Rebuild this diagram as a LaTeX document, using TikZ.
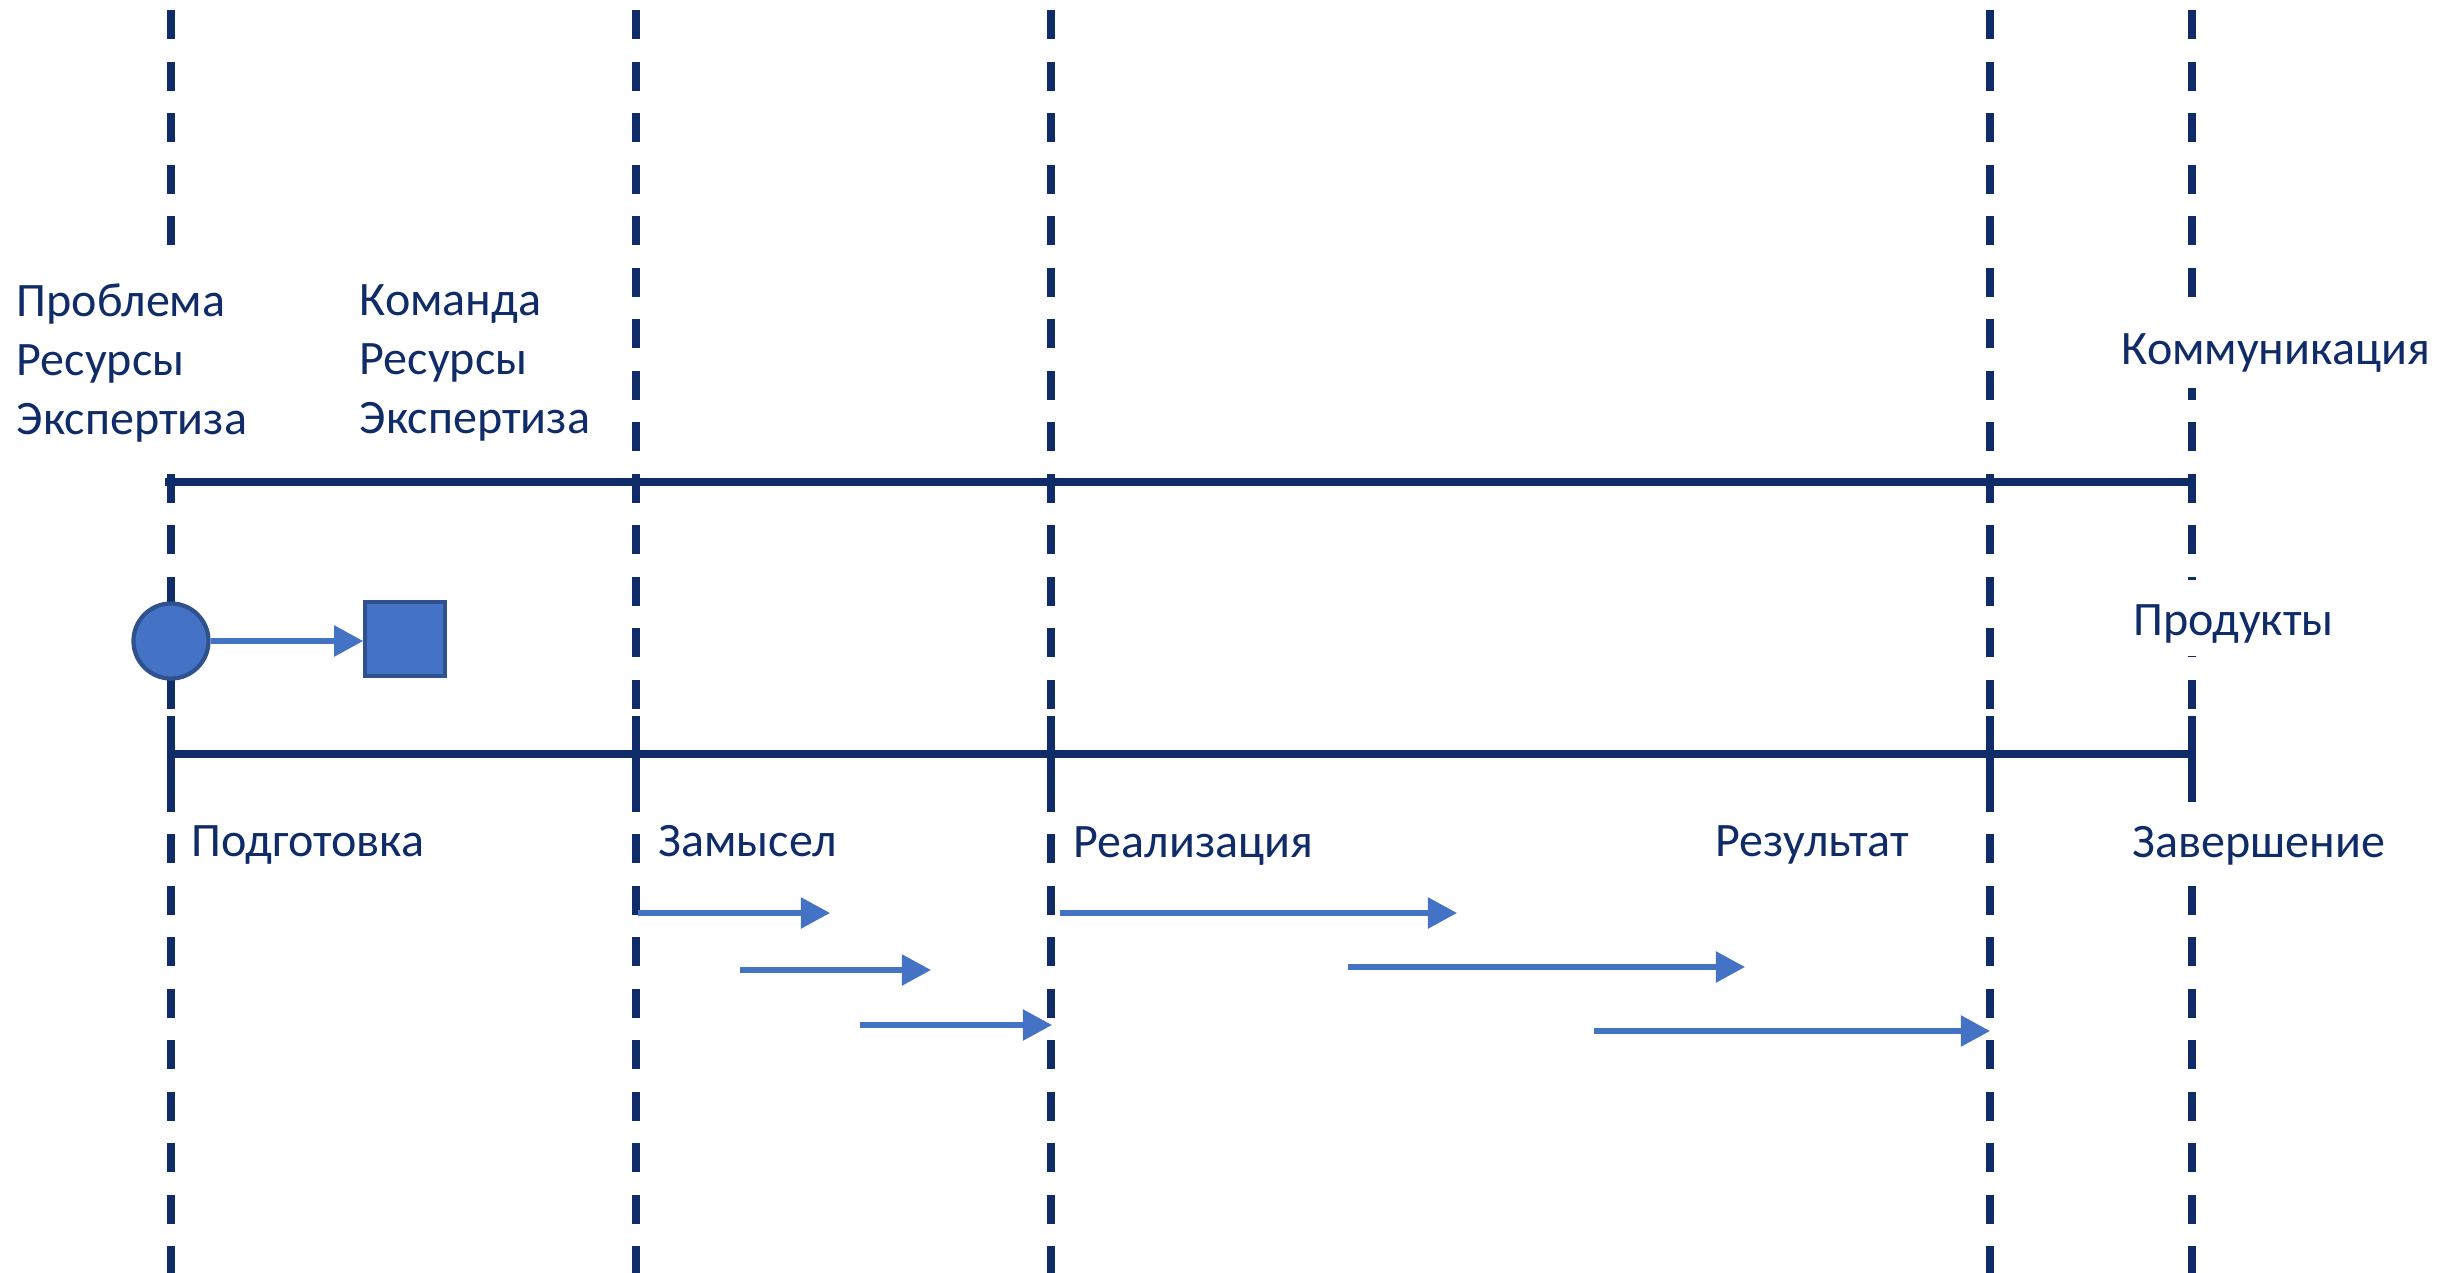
\documentclass[tikz,border=0pt]{standalone}
\usepackage{fontspec}
\setmainfont{Carlito}
\usetikzlibrary{arrows.meta}
\definecolor{navy}{HTML}{0F2C68}
\definecolor{accent}{HTML}{4472C4}
\definecolor{accentdark}{HTML}{2F528F}
\begin{document}
\begin{tikzpicture}[x=0.01cm,y=-0.01cm,
  phaseline/.style={draw=navy, line width=2.28pt, dash pattern=on 8.25pt off 6.4pt},
  axis/.style={draw=navy, line width=2.28pt},
  tick/.style={draw=navy, line width=2.28pt},
  lbl/.style={text=navy, font=\fontsize{13.66}{16.8}\selectfont, inner xsep=0pt, inner ysep=0pt},
  flow/.style={draw=accent, line width=1.5pt, -{Triangle[length=0.29cm,width=0.30cm]}},
]
\useasboundingbox (0,0) rectangle (2438,1273);

% vertical phase lines
\foreach \n/\x in {1/171,2/636,3/1051,4/1990,5/2192}{
  \coordinate (top\n) at (\x,10);
  \coordinate (bot\n) at (\x,1273);
  \draw[phaseline] (top\n) -- (bot\n);
}

% labels
\node[lbl, fill=white, inner ysep=0.3cm, align=left, anchor=west] (needs) at (16,363)
  {Проблема\\Ресурсы\\Экспертиза};
\node[lbl, align=left, anchor=west] (team) at (359,363)
  {Команда\\Ресурсы\\Экспертиза};
\node[lbl, fill=white, anchor=base west, text height=0.68cm, text depth=0.23cm] (comm) at (2121,365) {Коммуникация};
\node[lbl, fill=white, anchor=base west, text height=0.55cm, text depth=0.21cm] (prod) at (2133,635) {Продукты};

\node[lbl, anchor=base west] (prep) at (191,856) {Подготовка};
\node[lbl, anchor=base west] (idea) at (658,856) {Замысел};
\node[lbl, anchor=base west] (impl) at (1073,857) {Реализация};
\node[lbl, anchor=base west] (res) at (1715,856) {Результат};
\node[lbl, fill=white, anchor=base west, text height=0.56cm, text depth=0.27cm] (fin) at (2132,857) {Завершение};

% horizontal axes
\coordinate (c1) at (165,482);
\coordinate (c2) at (2188,482);
\draw[axis] (c1) -- (c2);
\coordinate (a1) at (171,754);
\coordinate (a2) at (2192,754);
\draw[axis] (a1) -- (a2);

% ticks on the lower axis
\foreach \n/\x in {1/171,2/636,3/1051,4/1990}{
  \coordinate (tu\n) at (\x,716);
  \coordinate (td\n) at (\x,790);
  \draw[tick] (tu\n) -- (td\n);
}
\coordinate (tu5) at (2192,716);
\coordinate (td5) at (2192,802);
\draw[tick] (tu5) -- (td5);

% circle and square
\node[circle, fill=accent, draw=accentdark, line width=1.2pt, minimum size=0.75cm, inner sep=0pt] (start) at (171,641) {};
\node[rectangle, fill=accent, draw=accentdark, line width=1.0pt, minimum width=0.80cm, minimum height=0.74cm, inner sep=0pt] (box) at (405,639) {};
\draw[flow] (start.east) -- (start.east -| box.west);

% task arrows
\foreach \n/\xa/\xb/\y in {1/638/830/913, 2/740/931/970, 3/860/1052/1025, 4/1060/1457/913, 5/1348/1745/967, 6/1594/1990/1031}{
  \coordinate (s\n) at (\xa,\y);
  \coordinate (e\n) at (\xb,\y);
  \draw[flow] (s\n) -- (e\n);
}
\end{tikzpicture}
\end{document}
